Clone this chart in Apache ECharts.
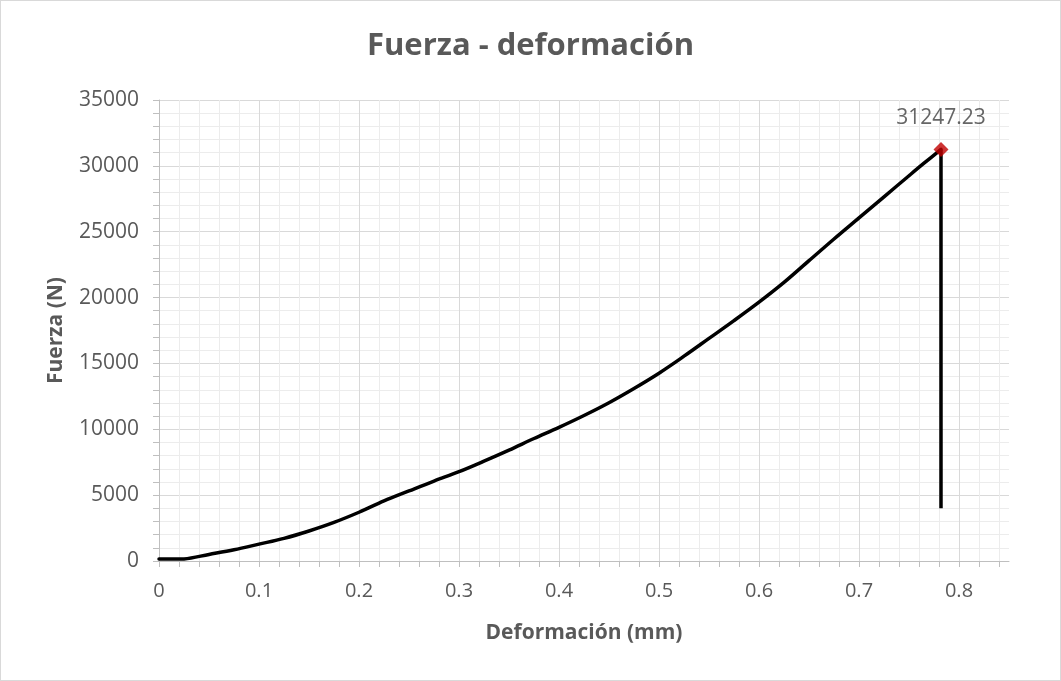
<!DOCTYPE html>
<html>
<head>
<meta charset="utf-8">
<script src="https://cdn.jsdelivr.net/npm/echarts@6/dist/echarts.min.js"></script>
<style>
  html, body { margin: 0; padding: 0; background: #ffffff; }
  #chart { width: 1061px; height: 681px; box-sizing: border-box; border: 1px solid #d9d9d9; }
</style>
</head>
<body>
<div id="chart"></div>
<script>
// Deformation (mm) and force (N) readings of the loading branch
const deformacion = [0, 0.01, 0.02, 0.025, 0.05, 0.075, 0.1, 0.125, 0.15, 0.175, 0.2, 0.225, 0.25, 0.275,
  0.3, 0.325, 0.35, 0.375, 0.4, 0.425, 0.45, 0.475, 0.5, 0.525, 0.55, 0.575, 0.6, 0.625, 0.65, 0.675,
  0.7, 0.725, 0.75, 0.765, 0.782];
const fuerza = [150, 150, 150, 160, 500, 850, 1280, 1720, 2280, 2930, 3700, 4560, 5320, 6070,
  6780, 7580, 8420, 9300, 10150, 11050, 12020, 13100, 14260, 15550, 16900, 18250, 19650, 21150, 22800, 24450,
  26050, 27650, 29250, 30200, 31247.23];

// Failure: load drops at the peak deformation
const caidaDeformacion = [0.782, 0.782];
const caidaFuerza = [31247.23, 4000];

// Peak load point
const picoDeformacion = [0.782];
const picoFuerza = [31247.23];

// Axis ranges
const xMin = 0, xMax = 0.85, xMajor = 0.1, xMinor = 0.02;
const yMin = 0, yMax = 35000, yMajor = 5000;

const curva = deformacion.map((d, i) => [d, fuerza[i]]);
const caida = caidaDeformacion.map((d, i) => [d, caidaFuerza[i]]);
const pico = picoDeformacion.map((d, i) => [d, picoFuerza[i]]);

const textColor = '#595959';
const axisColor = '#bfbfbf';
const majorGrid = '#d9d9d9';
const minorGrid = '#ececec';
const font = '"Open Sans", "Noto Sans", sans-serif';

const chart = echarts.init(document.getElementById('chart'), null, { renderer: 'canvas' });
chart.setOption({
  backgroundColor: '#ffffff',
  animation: false,
  title: {
    text: 'Fuerza - deformación',
    left: 'center',
    top: 25,
    textStyle: { fontFamily: font, fontSize: 31, fontWeight: 'bold', color: textColor }
  },
  grid: { left: 158, right: 51, top: 99, bottom: 119 },
  xAxis: {
    type: 'value',
    min: xMin,
    max: xMax,
    interval: xMinor,
    name: 'Deformación (mm)',
    nameLocation: 'middle',
    nameGap: 62,
    nameTextStyle: { fontFamily: font, fontSize: 21, fontWeight: 'bold', color: textColor },
    axisLine: { show: true, lineStyle: { color: axisColor, width: 1 } },
    axisTick: { show: true, length: 6, lineStyle: { color: axisColor } },
    axisLabel: {
      margin: 20,
      fontFamily: font, fontSize: 20, color: textColor,
      showMaxLabel: false,
      formatter: function (v) {
        const k = Math.round(v / xMinor);
        if (k % Math.round(xMajor / xMinor) !== 0) return '';
        return String(Math.round(v * 10) / 10);
      }
    },
    splitLine: {
      show: true,
      showMaxLine: false,
      lineStyle: { color: [majorGrid, minorGrid, minorGrid, minorGrid, minorGrid], width: 1 }
    }
  },
  yAxis: {
    type: 'value',
    min: yMin,
    max: yMax,
    interval: yMajor,
    name: 'Fuerza (N)',
    nameLocation: 'middle',
    nameGap: 92,
    nameTextStyle: { fontFamily: font, fontSize: 21, fontWeight: 'bold', color: textColor },
    axisLine: { show: true, lineStyle: { color: axisColor, width: 1 } },
    axisTick: { show: true, length: 6, lineStyle: { color: axisColor } },
    minorTick: { show: true, splitNumber: 5, length: 6, lineStyle: { color: axisColor } },
    axisLabel: {
      margin: 20, fontFamily: font, fontSize: 21, color: textColor,
      formatter: function (v) { return String(v); }
    },
    splitLine: { show: true, lineStyle: { color: majorGrid, width: 1 } },
    minorSplitLine: { show: true, lineStyle: { color: minorGrid, width: 1 } }
  },
  series: [
    {
      type: 'line',
      data: curva,
      showSymbol: false,
      smooth: 0.35,
      lineStyle: { color: '#000000', width: 3.5, join: 'round', cap: 'round' },
      z: 3
    },
    {
      type: 'line',
      data: caida,
      showSymbol: false,
      lineStyle: { color: '#000000', width: 3.5, cap: 'butt' },
      z: 3
    },
    {
      type: 'scatter',
      data: pico,
      symbol: 'diamond',
      symbolSize: 15,
      itemStyle: { color: '#c00000' },
      label: {
        show: true,
        position: 'top',
        distance: 13,
        fontFamily: font, fontSize: 21, color: '#404040',
        formatter: function (p) { return p.value[1].toFixed(2); }
      },
      z: 4
    }
  ]
});
</script>
</body>
</html>
